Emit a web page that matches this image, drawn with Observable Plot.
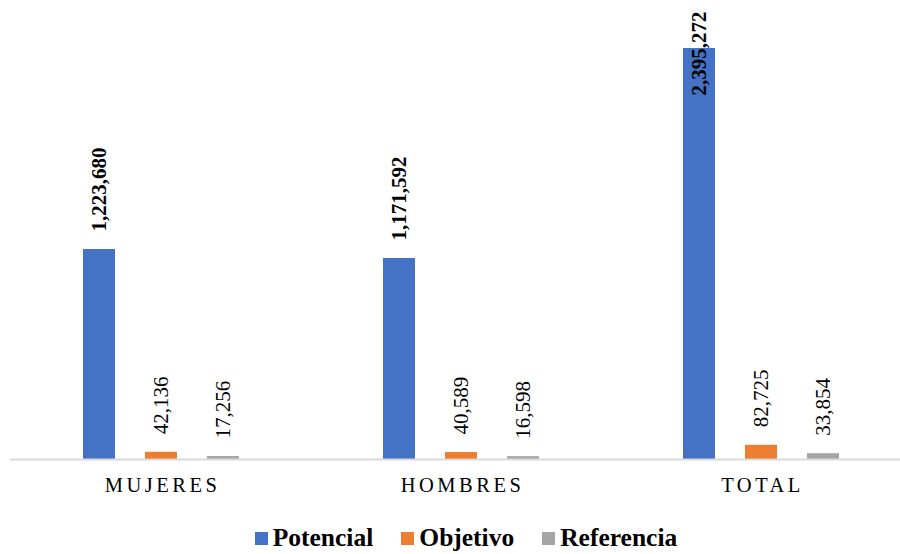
<!DOCTYPE html>
<html>
<head>
<meta charset="utf-8">
<script src="https://cdn.jsdelivr.net/npm/d3@7"></script>
<script src="https://cdn.jsdelivr.net/npm/@observablehq/plot@0.6"></script>
<style>
  html, body { margin: 0; padding: 0; background: #fff; overflow: hidden; }
  #chart { width: 900px; }
  .fxlab text { letter-spacing: 3.5px; font-size: 20.5px; }
  .legend { display: flex; justify-content: center; align-items: center; gap: 28px;
    font-family: "Liberation Serif", "DejaVu Serif", serif; font-weight: bold; font-size: 25.5px;
    color: #000; margin-top: 18px; padding-left: 32px; }
  .legend span.item { display: flex; align-items: center; gap: 5px; }
  .legend span.sw { width: 13px; height: 13px; display: inline-block; }
</style>
</head>
<body>
<div id="chart"></div>
<script>
const groups = ["MUJERES", "HOMBRES", "TOTAL"];
const series = ["Potencial", "Objetivo", "Referencia"];
const potencial = [1223680, 1171592, 2395272];
const objetivo = [42136, 40589, 82725];
const referencia = [17256, 16598, 33854];
const colors = ["#4472C4", "#ED7D31", "#A5A5A5"];

const valuesBySeries = [potencial, objetivo, referencia];
const rows = [];
groups.forEach((g, i) => series.forEach((s, j) => rows.push({group: g, series: s, value: valuesBySeries[j][i]})));

const fmt = d3.format(",");
const labelCap = 2016000; // keep the tallest label inside the plot area, as the original does

const plot = Plot.plot({
  width: 900,
  height: 505,
  marginTop: 0,
  marginBottom: 46,
  marginLeft: 10,
  marginRight: 0,
  style: {fontFamily: "'Liberation Serif', serif", background: "#fff"},
  fx: {domain: groups, range: [10, 910], padding: 0, label: null},
  x: {domain: series, paddingInner: 0.4839, paddingOuter: 1.1613, axis: null, round: false},
  y: {domain: [0, 2675000], axis: null},
  color: {domain: series, range: colors},
  marks: [
    Plot.barY(rows, {fx: "group", x: "series", y: "value", fill: "series", dx: 1}),
    Plot.ruleY([0], {stroke: "#D9D9D9", strokeWidth: 2}),
    Plot.text(rows.filter(d => d.series === "Potencial"), {
      fx: "group", x: "series", y: d => Math.min(d.value, labelCap),
      text: d => fmt(d.value), rotate: -90, textAnchor: "start", dy: -18, dx: 1,
      fontSize: 21, fontWeight: "bold", fill: "#000"
    }),
    Plot.text(rows.filter(d => d.series !== "Potencial"), {
      fx: "group", x: "series", y: "value",
      text: d => fmt(d.value), rotate: -90, textAnchor: "start", dy: -18, dx: 1,
      fontSize: 21, fill: "#000"
    }),
    Plot.axisFx({anchor: "bottom", tickSize: 0, tickPadding: 18, fontSize: 20.5, label: null, className: "fxlab", dx: 2})
  ]
});
document.getElementById("chart").appendChild(plot);

const legend = document.createElement("div");
legend.className = "legend";
series.forEach((s, j) => {
  const item = document.createElement("span");
  item.className = "item";
  const sw = document.createElement("span");
  sw.className = "sw";
  sw.style.background = colors[j];
  const t = document.createElement("span");
  t.textContent = s;
  item.appendChild(sw);
  item.appendChild(t);
  legend.appendChild(item);
});
document.getElementById("chart").appendChild(legend);
</script>
</body>
</html>
